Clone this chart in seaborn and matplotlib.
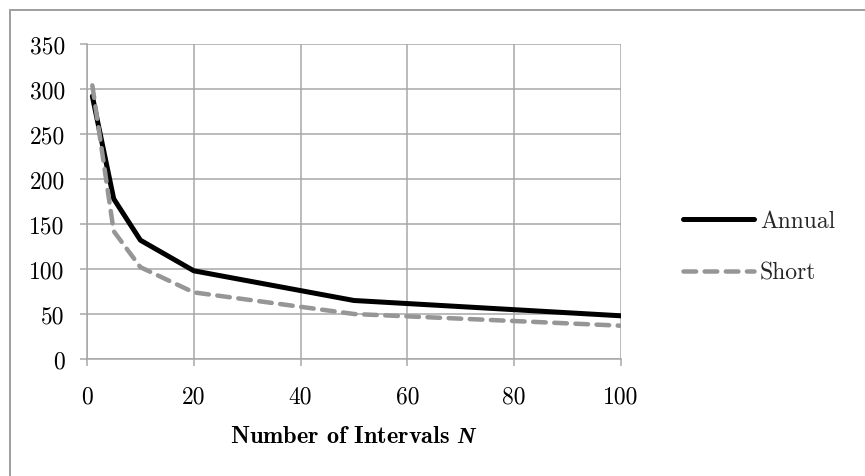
import matplotlib
matplotlib.use("Agg")
import matplotlib.pyplot as plt
import seaborn as sns
import pandas as pd
from matplotlib.lines import Line2D

# ---- data ----
intervals = [1, 5, 10, 20, 50, 100]
annual = [292, 178, 132, 98, 65, 48]
short = [304, 142, 102, 74, 50, 37]
series_names = ["Annual", "Short"]
x_ticks = [0, 20, 40, 60, 80, 100]
y_ticks = [0, 50, 100, 150, 200, 250, 300, 350]
x_label = "Number of Intervals $\\mathit{N}$"

df = pd.DataFrame({
    "N": intervals * 2,
    "value": annual + short,
    "series": [series_names[0]] * len(intervals) + [series_names[1]] * len(intervals),
})

sns.set_theme(style="white")
plt.rcParams["font.family"] = ["cmr10"]
plt.rcParams["axes.formatter.use_mathtext"] = True
plt.rcParams["mathtext.fontset"] = "custom"
plt.rcParams["mathtext.it"] = "Liberation Serif:italic:bold"
plt.rcParams["mathtext.rm"] = "cmr10"
plt.rcParams["mathtext.bf"] = "cmb10"

W, H = 865, 477
fig = plt.figure(figsize=(W / 100, H / 100), dpi=100)
ax = fig.add_axes([87 / W, 1 - 360 / H, (621 - 87) / W, (360 - 45) / H])

grid_c = "#a6a6a6"
lw_line = 5 * 72 / 100
lw_short = 4.5 * 72 / 100
short_dash = (2.8, 1.9)

sns.lineplot(data=df, x="N", y="value", hue="series", style="series",
             palette={"Annual": "black", "Short": "#969696"},
             dashes={"Annual": "", "Short": short_dash},
             ax=ax, legend=False)

lines = ax.get_lines()
lines[0].set_linewidth(lw_line)
lines[1].set_linewidth(lw_short)
for ln in lines:
    ln.set_solid_capstyle("round")
    ln.set_dash_capstyle("round")
    ln.set_solid_joinstyle("round")
    ln.set_dash_joinstyle("round")

ax.set_xlim(0, 100)
ax.set_ylim(0, 350)
ax.set_xticks(x_ticks)
ax.set_yticks(y_ticks)
ax.set_xticklabels([str(v) for v in x_ticks])
ax.set_yticklabels([str(v) for v in y_ticks])
ax.grid(True, color=grid_c, linewidth=1.5 * 72 / 100)
ax.set_axisbelow(True)
for s in ["top", "right"]:
    ax.spines[s].set_visible(False)
for s in ["left", "bottom"]:
    ax.spines[s].set_color(grid_c)
    ax.spines[s].set_linewidth(1.5 * 72 / 100)
ax.tick_params(axis="both", direction="out", length=5, width=1.5 * 72 / 100,
               color=grid_c, labelsize=17, labelcolor="black")
ax.tick_params(axis="y", pad=11, left=True)
ax.tick_params(axis="x", pad=14, bottom=True)

ax.set_ylabel("")
ax.set_xlabel(x_label, fontsize=17.5, family="cmb10", color="black", va="center")
ax.xaxis.set_label_coords(0.5, -0.245)

handles = [Line2D([], [], color="black", lw=lw_line, solid_capstyle="round"),
           Line2D([], [], color="#969696", lw=lw_short, dashes=short_dash,
                  dash_capstyle="round")]
ax.legend(handles, series_names, loc="center left",
          bbox_to_anchor=(683 / W, 1 - 248 / H), bbox_transform=fig.transFigure,
          frameon=False, fontsize=17, handlelength=3.0, handletextpad=0.25,
          labelspacing=1.25, borderpad=0, borderaxespad=0)

# chart-area border (left and top edges visible)
bc = "#a0a0a0"
fig.add_artist(Line2D([10 / W, 10 / W], [0, 1 - 11 / H], transform=fig.transFigure,
                      color=bc, lw=2 * 72 / 100))
fig.add_artist(Line2D([10 / W, 1], [1 - 11 / H, 1 - 11 / H], transform=fig.transFigure,
                      color=bc, lw=2 * 72 / 100))

fig.savefig("out.png", dpi=100)
